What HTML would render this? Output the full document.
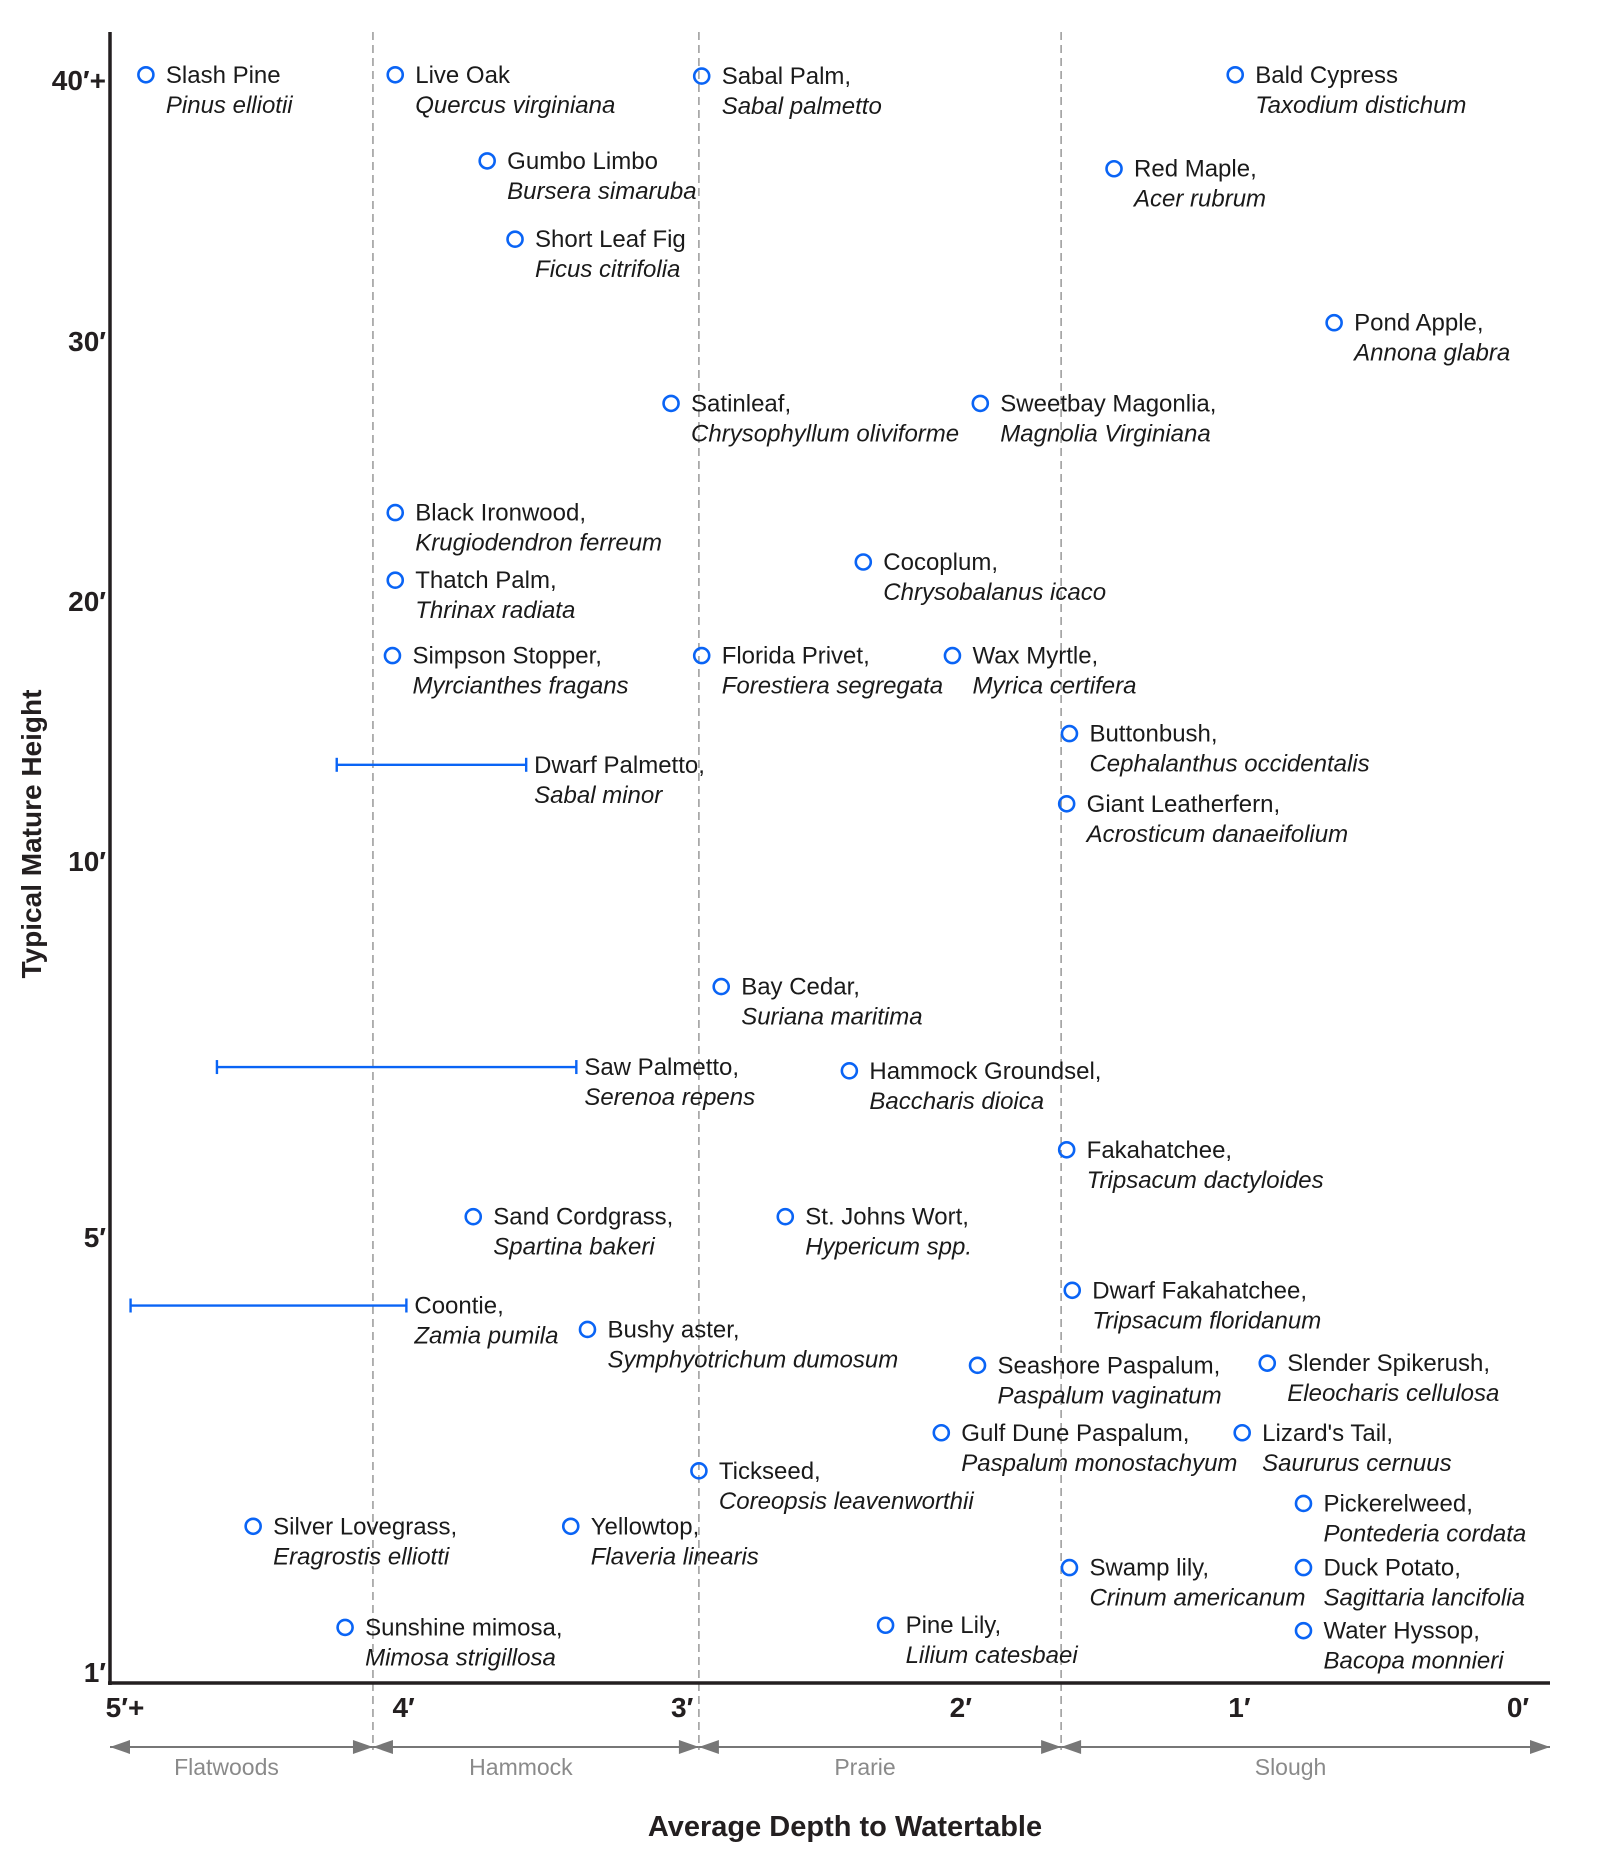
<!DOCTYPE html>
<html><head><meta charset="utf-8"><style>
html,body{margin:0;padding:0;background:#fff;}
svg{display:block;font-family:"Liberation Sans",sans-serif;}
</style></head><body>
<svg id="chart" width="1598" height="1875" viewBox="0 0 1598 1875" xmlns="http://www.w3.org/2000/svg"></svg>
<script>
const names=["Slash Pine","Live Oak","Sabal Palm,","Bald Cypress","Gumbo Limbo","Red Maple,","Short Leaf Fig","Pond Apple,","Satinleaf,","Sweetbay Magonlia,","Black Ironwood,","Cocoplum,","Thatch Palm,","Simpson Stopper,","Florida Privet,","Wax Myrtle,","Buttonbush,","Giant Leatherfern,","Bay Cedar,","Hammock Groundsel,","Fakahatchee,","Sand Cordgrass,","St. Johns Wort,","Dwarf Fakahatchee,","Bushy aster,","Seashore Paspalum,","Slender Spikerush,","Gulf Dune Paspalum,","Lizard's Tail,","Tickseed,","Pickerelweed,","Silver Lovegrass,","Yellowtop,","Swamp lily,","Duck Potato,","Sunshine mimosa,","Pine Lily,","Water Hyssop,"];
const latin=["Pinus elliotii","Quercus virginiana","Sabal palmetto","Taxodium distichum","Bursera simaruba","Acer rubrum","Ficus citrifolia","Annona glabra","Chrysophyllum oliviforme","Magnolia Virginiana","Krugiodendron ferreum","Chrysobalanus icaco","Thrinax radiata","Myrcianthes fragans","Forestiera segregata","Myrica certifera","Cephalanthus occidentalis","Acrosticum danaeifolium","Suriana maritima","Baccharis dioica","Tripsacum dactyloides","Spartina bakeri","Hypericum spp.","Tripsacum floridanum","Symphyotrichum dumosum","Paspalum vaginatum","Eleocharis cellulosa","Paspalum monostachyum","Saururus cernuus","Coreopsis leavenworthii","Pontederia cordata","Eragrostis elliotti","Flaveria linearis","Crinum americanum","Sagittaria lancifolia","Mimosa strigillosa","Lilium catesbaei","Bacopa monnieri"];
const depths=[4.925,4.03,2.93,1.015,3.70,1.45,3.60,0.66,3.04,1.93,4.03,2.35,4.03,4.04,2.93,2.03,1.61,1.62,2.86,2.40,1.62,3.75,2.63,1.60,3.34,1.94,0.90,2.07,0.99,2.94,0.77,4.54,3.40,1.61,0.77,4.21,2.27,0.77];
const heights=[40.2,40.2,40.15,40.2,36.9,36.6,33.9,30.7,27.6,27.6,23.4,21.5,20.8,17.9,17.9,17.9,14.9,12.2,8.33,7.21,6.16,5.27,5.27,4.51,4.15,3.82,3.84,3.2,3.2,2.85,2.55,2.34,2.34,1.96,1.96,1.41,1.43,1.38];
const rangeNames=["Dwarf Palmetto,","Saw Palmetto,","Coontie,"];
const rangeLatin=["Sabal minor","Serenoa repens","Zamia pumila"];
const rangeMin=[3.56,3.38,3.99];
const rangeMax=[4.24,4.67,4.98];
const rangeHeights=[13.7,7.26,4.37];
const xTicks=[5,4,3,2,1,0];
const xTickLabels=["5′+","4′","3′","2′","1′","0′"];
const yTicks=[40,30,20,10,5,1];
const yTickLabels=["40′+","30′","20′","10′","5′","1′"];
const zoneBounds=[5.2,4.11,2.94,1.64,-0.12];
const zoneNames=["Flatwoods","Hammock","Prarie","Slough"];

const NS="http://www.w3.org/2000/svg";
const svg=document.getElementById('chart');
function el(tag,attrs,parent){const e=document.createElementNS(NS,tag);for(const k in attrs)e.setAttribute(k,attrs[k]);(parent||svg).appendChild(e);return e;}
function xScale(d){return 1518-278.6*d;}
function yScale(h){
  const hk=[1,5,10,20,30,40],pk=[1672,1237,861,601,341,80];
  if(h>=40)return pk[5]-(h-40)*26.1;
  for(let i=0;i<5;i++){if(h<=hk[i+1]){const t=(h-hk[i])/(hk[i+1]-hk[i]);return pk[i]+t*(pk[i+1]-pk[i]);}}
  return pk[5];
}
const AX=110,TOP=32,BOT=1683,RIGHT=1550;
for(let i=1;i<zoneBounds.length-1;i++){
  const l=el('line',{x1:xScale(zoneBounds[i]),x2:xScale(zoneBounds[i]),y1:TOP,y2:1750,stroke:'#888','stroke-width':1.3,'stroke-dasharray':'8,5'});
  
  
}
const ya=el('line',{x1:AX,x2:AX,y1:TOP,y2:BOT+2,stroke:'#231f20','stroke-width':3.5});


const xa=el('line',{x1:AX-2,x2:RIGHT,y1:BOT,y2:BOT,stroke:'#231f20','stroke-width':3.5});


yTicks.forEach((v,i)=>{
  const t=el('text',{x:106,y:yScale(v)+10,'text-anchor':'end','font-size':28,'font-weight':'bold',fill:'#231f20'});
  t.textContent=yTickLabels[i];
  
  
});
xTicks.forEach((v,i)=>{
  const t=el('text',{x:xScale(v),y:1717,'text-anchor':'middle','font-size':28,'font-weight':'bold',fill:'#231f20'});
  t.textContent=xTickLabels[i];
  
  
});
zoneNames.forEach((n,i)=>{
  const x1=Math.max(AX,xScale(zoneBounds[i])),x2=Math.min(RIGHT,xScale(zoneBounds[i+1]));
  const g=el('g',{});
  
  
  el('line',{x1:x1,x2:x2,y1:1747,y2:1747,stroke:'#777','stroke-width':2},g);
  el('polygon',{points:`${x1},1747 ${x1+20},1740 ${x1+20},1754`,fill:'#777'},g);
  el('polygon',{points:`${x2},1747 ${x2-20},1740 ${x2-20},1754`,fill:'#777'},g);
  const t=el('text',{x:(x1+x2)/2-15,y:1775,'text-anchor':'middle','font-size':23,fill:'#8a8a8a'},g);
  t.textContent=n;
});
depths.forEach((d,i)=>{
  const cx=xScale(d),cy=yScale(heights[i]);
  const g=el('g',{});
  
  
  el('circle',{cx:cx,cy:cy,r:7.5,fill:'none',stroke:'#0a64f5','stroke-width':2.6},g);
  const t1=el('text',{x:cx+20,y:cy+8,'font-size':24,fill:'#1a1a1a'},g);t1.textContent=names[i];
  const t2=el('text',{x:cx+20,y:cy+38,'font-size':24,'font-style':'italic',fill:'#1a1a1a'},g);t2.textContent=latin[i];
});
rangeMin.forEach((mn,i)=>{
  const xa=xScale(rangeMax[i]),xb=xScale(mn),y=yScale(rangeHeights[i]);
  const g=el('g',{});
  
  
  el('line',{x1:xa,x2:xb,y1:y,y2:y,stroke:'#0a64f5','stroke-width':2.4},g);
  el('line',{x1:xa,x2:xa,y1:y-7,y2:y+7,stroke:'#0a64f5','stroke-width':2.4},g);
  el('line',{x1:xb,x2:xb,y1:y-7,y2:y+7,stroke:'#0a64f5','stroke-width':2.4},g);
  const t1=el('text',{x:xb+8,y:y+8,'font-size':24,fill:'#1a1a1a'},g);t1.textContent=rangeNames[i];
  const t2=el('text',{x:xb+8,y:y+38,'font-size':24,'font-style':'italic',fill:'#1a1a1a'},g);t2.textContent=rangeLatin[i];
});
const yt=el('text',{x:0,y:0,transform:'translate(41,834) rotate(-90)','text-anchor':'middle','font-size':28,'font-weight':'bold',fill:'#231f20'});
yt.textContent='Typical Mature Height';


const xt=el('text',{x:845,y:1836,'text-anchor':'middle','font-size':29,'font-weight':'bold',fill:'#231f20'});
xt.textContent='Average Depth to Watertable';


</script>
</body></html>
